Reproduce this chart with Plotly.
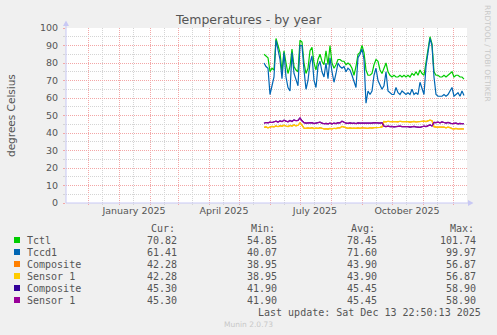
import pandas as pd
import plotly.graph_objects as go

# ---- data: one sample every second day, 2025-05-26 .. 2025-12-12 ----
start_date = "2025-05-26"
step = "2D"

tctl = [85, 84, 83, 75, 77, 76, 94, 90, 86, 75, 87, 80, 74, 78, 88, 78, 76, 75, 93, 92,
        80, 74, 77, 87, 89, 80, 76, 82, 85, 81, 79, 87, 79, 90, 80, 77, 79, 82, 82, 81,
        81, 79, 80, 79, 77, 73, 78, 85, 86, 90, 86, 76, 73, 73, 74, 79, 82, 81, 76, 74,
        77, 80, 75, 73, 72, 73, 72, 72, 73, 72, 73, 72, 73, 72, 74, 73, 75, 73, 76, 74,
        73, 81, 88, 95, 91, 75, 73, 73, 72, 72, 73, 72, 73, 74, 75, 72, 73, 73, 72, 72,
        70.82]

tccd1 = [80, 78, 77, 62, 67, 72, 93, 88, 82, 71, 86, 72, 66, 64, 86, 74, 70, 67, 90, 90,
         76, 65, 70, 80, 84, 70, 66, 78, 81, 75, 72, 80, 71, 83, 75, 69, 74, 80, 78, 77,
         78, 75, 77, 76, 73, 70, 66, 83, 85, 88, 82, 57, 64, 62, 64, 73, 77, 70, 67, 65,
         67, 75, 64, 63, 62, 62, 66, 63, 62, 64, 63, 62, 63, 62, 65, 62, 63, 62, 69, 66,
         62, 78, 87, 94, 90, 72, 62, 61, 61, 61, 62, 61, 62, 64, 66, 61, 62, 63, 61, 64,
         61.41]

nvme0_sensor1 = [43.2, 43.5, 43.0, 43.3, 43.8, 43.5, 44.0, 43.6, 44.2, 43.8, 44.5, 44.0, 43.7, 44.3, 44.0,
                 44.6, 44.1, 44.4, 45.8, 44.5, 42.8, 42.6, 42.9, 42.7, 43.0, 42.5, 42.8, 42.6, 43.1, 42.7,
                 42.3, 42.5, 42.2, 42.6, 42.3, 42.7, 42.5, 43.0, 42.9, 43.8, 43.3, 42.8, 42.7, 42.9, 42.6,
                 42.8, 42.6, 42.9, 42.7, 43.0, 42.8, 42.9, 42.7, 43.0, 42.8, 43.1, 43.0, 43.3, 43.2, 43.5,
                 46.6, 46.4, 46.7, 46.5, 46.6, 46.3, 46.5, 46.4, 46.7, 46.5, 46.6, 46.4, 46.5, 46.2, 46.4,
                 46.6, 46.3, 46.5, 46.4, 46.6, 46.8, 46.5, 47.0, 47.3, 47.0, 43.6, 43.4, 43.5, 43.2, 43.6,
                 43.4, 43.0, 43.3, 43.1, 42.5, 42.4, 42.6, 42.3, 42.5, 42.4, 42.28]

nvme1_sensor1 = [45.6, 46.0, 45.8, 46.2, 46.0, 46.5, 46.8, 46.3, 46.9, 46.5, 47.3, 46.8, 46.4, 47.2, 46.6,
                 47.5, 47.0, 47.2, 48.6, 47.0, 45.9, 45.6, 45.8, 45.7, 45.9, 45.4, 45.7, 45.6, 46.2, 45.6,
                 45.3, 45.5, 45.2, 45.6, 45.2, 45.6, 45.4, 45.9, 45.8, 46.8, 46.2, 45.6, 45.5, 45.8, 45.5,
                 45.7, 45.4, 45.8, 45.6, 45.8, 45.6, 45.7, 45.6, 45.8, 45.6, 45.9, 45.7, 45.8, 45.6, 45.9,
                 43.9, 43.7, 43.9, 43.6, 43.8, 43.5, 43.7, 43.6, 43.9, 43.7, 43.8, 43.5, 43.6, 43.4, 43.6,
                 43.8, 43.5, 43.3, 43.2, 43.6, 43.9, 43.7, 44.2, 44.6, 44.0, 46.1, 45.9, 46.2, 45.8, 46.3,
                 46.0, 45.7, 46.1, 45.8, 45.3, 45.5, 45.6, 45.2, 45.5, 45.3, 45.30]

# the "Composite" readings track "Sensor 1" on each drive
nvme0_composite = list(nvme0_sensor1)
nvme1_composite = list(nvme1_sensor1)

series_names = ["Tctl", "Tccd1", "Composite", "Sensor 1", "Composite", "Sensor 1"]
series_colors = ["#00cc00", "#0066b3", "#ff8000", "#ffcc00", "#330099", "#990099"]
series_values = [tctl, tccd1, nvme0_composite, nvme0_sensor1, nvme1_composite, nvme1_sensor1]

stat_cur = [70.82, 61.41, 42.28, 42.28, 45.30, 45.30]
stat_min = [54.85, 40.07, 38.95, 38.95, 41.90, 41.90]
stat_avg = [78.45, 71.60, 43.90, 43.90, 45.45, 45.45]
stat_max = [101.74, 99.97, 56.87, 56.87, 58.90, 58.90]

x_range = ["2024-11-09", "2025-12-15"]
x_tick_dates = ["2025-01-16", "2025-04-16", "2025-07-16", "2025-10-16"]
x_tick_text = ["January 2025", "April 2025", "July 2025", "October 2025"]

# ---- geometry helpers (pixel -> paper) ----
W, H = 497, 335
L, R, T, B = 66, 467, 28, 203


def px(x):
    return (x - L) / (R - L)


def py(y):
    return (B - y) / (B - T)


TXT = "#555555"
MGRID = "#f3a6a6"
GRID = "#d4d4d4"
AXIS = "#c8c8f4"
SANS = "DejaVu Sans"
MONO = "DejaVu Sans Mono"

dates = pd.date_range(start_date, periods=len(tctl), freq=step)

fig = go.Figure()
for name, color, vals in zip(series_names, series_colors, series_values):
    fig.add_trace(go.Scatter(x=dates, y=vals, mode="lines", name=name,
                             line=dict(color=color, width=1.2), showlegend=False,
                             hoverinfo="skip"))

shapes = []
# vertical grid: month starts (major) and the 15th (minor); half-day offset keeps
# each 1px line on a single pixel column
half_day = pd.Timedelta(hours=12)
for d in pd.date_range("2024-11-15", "2025-12-15", freq="MS") + pd.Timedelta(days=14):
    if pd.Timestamp(x_range[0]) < d < pd.Timestamp(x_range[1]):
        shapes.append(dict(type="line", xref="x", yref="paper", x0=d + half_day, x1=d + half_day,
                           y0=py(B + 2), y1=1, layer="below",
                           line=dict(color=GRID, width=1, dash="1px,1px")))
for d in pd.date_range("2024-12-01", "2025-12-01", freq="MS"):
    shapes.append(dict(type="line", xref="x", yref="paper", x0=d + half_day, x1=d + half_day,
                       y0=py(B + 2), y1=1, layer="below",
                       line=dict(color=MGRID, width=1, dash="1px,1px")))

# axis lines with arrow heads
shapes.append(dict(type="line", xref="paper", yref="paper", x0=0, x1=px(469),
                   y0=0, y1=0, line=dict(color=AXIS, width=1)))
shapes.append(dict(type="line", xref="paper", yref="paper", x0=0, x1=0,
                   y0=0, y1=py(24), line=dict(color=AXIS, width=1)))
shapes.append(dict(type="path", xref="paper", yref="paper",
                   path=f"M {px(63)} {py(26)} L {px(69)} {py(26)} L {px(66)} {py(20.5)} Z",
                   fillcolor=AXIS, line=dict(width=0)))
shapes.append(dict(type="path", xref="paper", yref="paper",
                   path=f"M {px(468)} {py(200)} L {px(468)} {py(206)} L {px(473.5)} {py(203)} Z",
                   fillcolor=AXIS, line=dict(width=0)))

annotations = []
annotations.append(dict(text="Temperatures - by year", xref="paper", yref="paper",
                        x=px(248), y=py(19.5), xanchor="center", yanchor="middle",
                        showarrow=False, font=dict(family=SANS, size=12.5, color=TXT)))
annotations.append(dict(text="degrees Celsius", xref="paper", yref="paper",
                        x=px(10.5), y=py(115.5), xanchor="center", yanchor="middle",
                        textangle=-90, showarrow=False,
                        font=dict(family=SANS, size=10.5, color=TXT)))
annotations.append(dict(text="RRDTOOL / TOBI OETIKER", xref="paper", yref="paper",
                        x=px(487.5), y=py(53.5), xanchor="center", yanchor="middle",
                        textangle=90, showarrow=False,
                        font=dict(family=SANS, size=7.5, color="#c8c8c8")))
annotations.append(dict(text="Munin 2.0.73", xref="paper", yref="paper",
                        x=px(248), y=py(324), xanchor="center", yanchor="middle",
                        showarrow=False, font=dict(family=SANS, size=7.5, color="#c8c8c8")))

# legend table
row0 = 240
row_h = 12
col_right = {"Cur:": 178.5, "Min:": 278.5, "Avg:": 378.5, "Max:": 477.5}
stats = {"Cur:": stat_cur, "Min:": stat_min, "Avg:": stat_avg, "Max:": stat_max}
for head, xr in col_right.items():
    annotations.append(dict(text=head, xref="paper", yref="paper",
                            x=px(xr - 30), y=py(row0 - row_h), xanchor="left",
                            yanchor="middle", showarrow=False,
                            font=dict(family=MONO, size=10, color=TXT)))
for i, (name, color) in enumerate(zip(series_names, series_colors)):
    yc = row0 + i * row_h
    shapes.append(dict(type="rect", xref="paper", yref="paper",
                       x0=px(14), x1=px(20), y0=py(yc + 3), y1=py(yc - 3),
                       fillcolor=color, line=dict(width=0)))
    annotations.append(dict(text=name, xref="paper", yref="paper",
                            x=px(25), y=py(yc), xanchor="left", yanchor="middle",
                            showarrow=False, font=dict(family=MONO, size=10, color=TXT)))
    for head, xr in col_right.items():
        annotations.append(dict(text=f"{stats[head][i]:.2f}", xref="paper", yref="paper",
                                x=px(xr), y=py(yc), xanchor="right", yanchor="middle",
                                showarrow=False, font=dict(family=MONO, size=10, color=TXT)))
annotations.append(dict(text="Last update: Sat Dec 13 22:50:13 2025", xref="paper",
                        yref="paper", x=px(482.5), y=py(row0 + 6 * row_h),
                        xanchor="right", yanchor="middle", showarrow=False,
                        font=dict(family=MONO, size=10, color=TXT)))

fig.update_layout(
    width=W, height=H, autosize=False,
    margin=dict(l=L, r=W - R, t=T, b=H - B, pad=0),
    paper_bgcolor="#f0f0f0", plot_bgcolor="#ffffff",
    showlegend=False,
    shapes=shapes, annotations=annotations,
    xaxis=dict(type="date", range=x_range, tickvals=x_tick_dates, ticktext=x_tick_text,
               showgrid=False, zeroline=False, showline=False, ticks="",
               tickfont=dict(family=SANS, size=9.5, color=TXT)),
    yaxis=dict(range=[0, 100], dtick=10, tick0=0, showgrid=True, gridcolor=MGRID,
               griddash="1px,1px", gridwidth=1, zeroline=False, showline=False,
               ticks="outside", ticklen=2, tickcolor=MGRID, ticklabelstandoff=3,
               tickfont=dict(family=SANS, size=9.5, color=TXT),
               minor=dict(dtick=5, tick0=0, showgrid=True, gridcolor=GRID,
                          griddash="1px,1px", ticks="outside", ticklen=2, tickcolor=GRID)),
)

fig.write_html("out.html")
